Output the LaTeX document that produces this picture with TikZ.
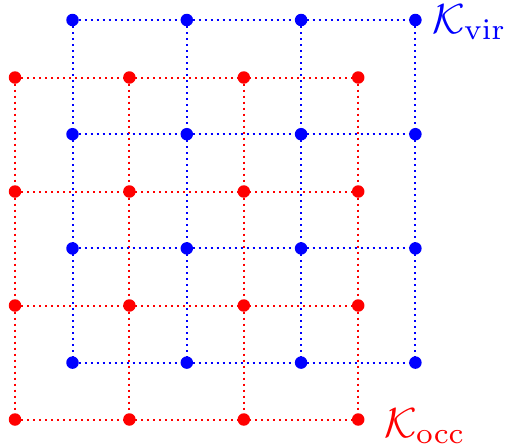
\documentclass[tikz,border=0pt]{standalone}
\usepackage{graphicx}
\begin{document}
\begin{tikzpicture}[x=1pt,y=-1pt,
  gridline/.style={line width=2pt,dash pattern=on 2pt off 4pt},
  dotnode/.style={circle,fill,inner sep=0pt,minimum size=12.5pt},
  lbl/.style={inner sep=0pt}]
\useasboundingbox (0,0) rectangle (509,445);
% coordinates
\foreach \i in {0,...,3}{
  \foreach \j in {0,...,3}{
    \coordinate (b\i\j) at ({72.5+114.3*\i},{20+114.2*\j});
    \coordinate (r\i\j) at ({15+114.4*\i},{77.5+114*\j});
  }}
% red grid
\begin{scope}[red]
\foreach \k in {0,...,3}{
  \draw[gridline] (r0\k) -- (r3\k);
  \draw[gridline] (r\k0) -- (r\k3);
}
\foreach \i in {0,...,3}{\foreach \j in {0,...,3}{\node[dotnode] (R\i\j) at (r\i\j) {};}}
\end{scope}
% blue grid
\begin{scope}[blue]
\foreach \k in {0,...,3}{
  \draw[gridline] (b0\k) -- (b3\k);
  \draw[gridline] (b\k0) -- (b\k3);
}
\foreach \i in {0,...,3}{\foreach \j in {0,...,3}{\node[dotnode] (B\i\j) at (b\i\j) {};}}
\end{scope}
\node[lbl,blue,anchor=base west] (kvir) at (432,33) {\scalebox{4.2}{$\mathcal{K}_{\mathrm{vir}}$}};
\node[lbl,red,anchor=base west] (kocc) at (384,437) {\scalebox{4.2}{$\mathcal{K}_{\mathrm{occ}}$}};
\end{tikzpicture}
\end{document}
